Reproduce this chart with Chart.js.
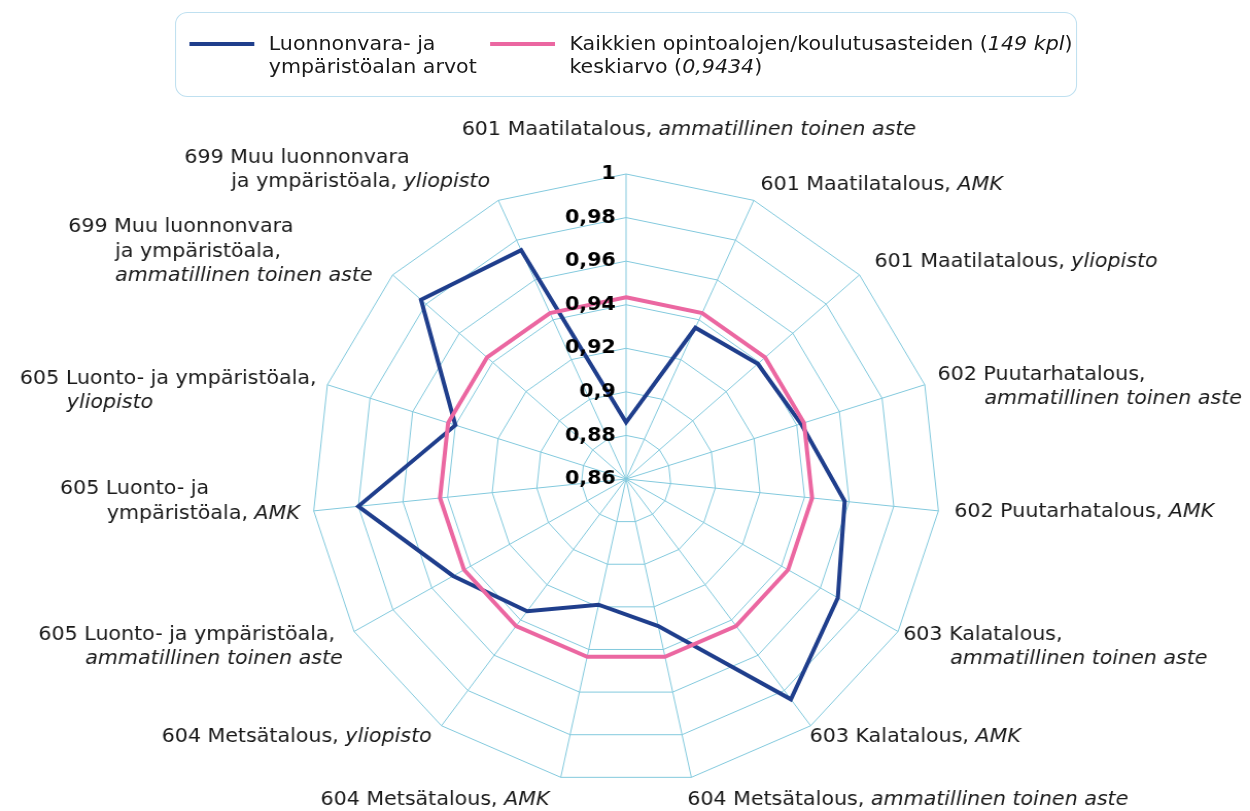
<!DOCTYPE html>
<html lang="fi">
<head>
<meta charset="utf-8">
<title>Luonnonvara- ja ympäristöala</title>
<script src="https://cdn.jsdelivr.net/npm/chart.js"></script>
<style>
  html, body { margin: 0; padding: 0; background: #fff; overflow: hidden; }
  #wrap {
    position: relative;
    width: 1214px;
    height: 811px;
    transform: scaleX(1.0297);
    transform-origin: 0 0;
    font-family: "DejaVu Sans", Verdana, sans-serif;
    color: #1a1a1a;
  }
  #chart { position: absolute; left: 0; top: 0; }
  .legend-box {
    position: absolute;
    left: 170px; top: 12px;
    width: 874px; height: 83px;
    border: 1.5px solid #bfe0f0;
    border-radius: 12px;
  }
  .legend-line { position: absolute; top: 42px; height: 4px; width: 63px; }
  .legend-text { position: absolute; top: 32px; font-size: 20px; line-height: 23px; white-space: nowrap; }
</style>
</head>
<body>
<div id="wrap">
  <canvas id="chart" width="1214" height="811"></canvas>
  <div class="legend-box"></div>
  <div class="legend-line" style="left:184px;background:#1f3e8c"></div>
  <div class="legend-text" style="left:261px">Luonnonvara- ja<br>ympäristöalan arvot</div>
  <div class="legend-line" style="left:476px;background:#eb67a1"></div>
  <div class="legend-text" style="left:553px">Kaikkien opintoalojen/koulutusasteiden (<i>149 kpl</i>)<br>keskiarvo (<i>0,9434</i>)</div>
</div>
<script>
// Kategoriat (*kursiivi*, \n = rivinvaihto)
const categories = [
  "601 Maatilatalous, *ammatillinen toinen aste*",
  "601 Maatilatalous, *AMK*",
  "601 Maatilatalous, *yliopisto*",
  "602 Puutarhatalous,\n*ammatillinen toinen aste*",
  "602 Puutarhatalous, *AMK*",
  "603 Kalatalous,\n*ammatillinen toinen aste*",
  "603 Kalatalous, *AMK*",
  "604 Metsätalous, *ammatillinen toinen aste*",
  "604 Metsätalous, *AMK*",
  "604 Metsätalous, *yliopisto*",
  "605 Luonto- ja ympäristöala,\n*ammatillinen toinen aste*",
  "605 Luonto- ja\nympäristöala, *AMK*",
  "605 Luonto- ja ympäristöala,\n*yliopisto*",
  "699 Muu luonnonvara\nja ympäristöala,\n*ammatillinen toinen aste*",
  "699 Muu luonnonvara\nja ympäristöala, *yliopisto*"
];

// Luonnonvara- ja ympäristöalan arvot
const alanArvot = [0.886, 0.936, 0.939, 0.942, 0.958, 0.969, 0.985, 0.929, 0.919, 0.935, 0.949, 0.980, 0.940, 0.983, 0.975];
// Kaikkien alojen keskiarvo
const keskiarvo = [0.9434, 0.9434, 0.9434, 0.9434, 0.9434, 0.9434, 0.9434, 0.9434, 0.9434, 0.9434, 0.9434, 0.9434, 0.9434, 0.9434, 0.9434];

const tickValues = [0.86, 0.88, 0.9, 0.92, 0.94, 0.96, 0.98, 1];
const tickLabels = ["0,86", "0,88", "0,9", "0,92", "0,94", "0,96", "0,98", "1"];

// Nimikkeiden sijoittelu suhteessa akselin uloimpaan pisteeseen
const labelPlace = [
  { align: "center", dx: 61, dy: -44 },
  { align: "left", dx: 6.5, dy: -16 },
  { align: "left", dx: 14.5, dy: -13 },
  { align: "left", dx: 12.5, dy: -10 },
  { align: "left", dx: 15.5, dy: 1 },
  { align: "left", dx: 5, dy: 3 },
  { align: "left", dx: -1, dy: 11 },
  { align: "left", dx: -4, dy: 22 },
  { align: "right", dx: -11, dy: 22 },
  { align: "right", dx: -9.5, dy: 11 },
  { align: "right", dx: -11, dy: 3 },
  { align: "right", dx: -13.5, dy: -22 },
  { align: "right", dx: -10.5, dy: -6 },
  { align: "right", dx: -19.5, dy: -48 },
  { align: "right", dx: -8, dy: -43 }
];

const FONT = '"DejaVu Sans", Verdana, sans-serif';
const LINE_H = 24.5;
const INDENT = 45.5;

function parseLine(line) {
  return line.split("*").map((t, k) => ({ t: t, it: k % 2 === 1 })).filter(s => s.t.length);
}

const textPlugin = {
  id: "radarText",
  afterDraw(chart) {
    const scale = chart.scales.r;
    const ctx = chart.ctx;
    ctx.save();
    ctx.textBaseline = "middle";

    // Asteikon arvot akselin vasemmalle puolelle
    ctx.font = "bold 20px " + FONT;
    ctx.fillStyle = "#000";
    ctx.textAlign = "right";
    tickValues.forEach((v, k) => {
      const p = scale.getPointPositionForValue(0, v);
      ctx.fillText(tickLabels[k], p.x - 10, p.y);
    });

    // Kategorioiden nimikkeet
    ctx.fillStyle = "#1a1a1a";
    ctx.textAlign = "left";
    categories.forEach((txt, i) => {
      const lines = txt.split("\n").map(parseLine);
      const place = labelPlace[i];
      const v = scale.getPointPosition(i, scale.drawingArea);
      const widths = lines.map((segs, k) => {
        let w = k ? INDENT : 0;
        segs.forEach(s => {
          ctx.font = (s.it ? "italic " : "") + "20px " + FONT;
          w += ctx.measureText(s.t).width;
        });
        return w;
      });
      const blockW = Math.max(...widths);
      let left = v.x + place.dx;
      if (place.align === "right") left -= blockW;
      if (place.align === "center") left -= blockW / 2;
      lines.forEach((segs, k) => {
        let x = left + (k ? INDENT : 0);
        const y = v.y + place.dy + k * LINE_H;
        segs.forEach(s => {
          ctx.font = (s.it ? "italic " : "") + "20px " + FONT;
          ctx.fillText(s.t, x, y);
          x += ctx.measureText(s.t).width;
        });
      });
    });
    ctx.restore();
  }
};

const ctx = document.getElementById("chart").getContext("2d");
new Chart(ctx, {
  type: "radar",
  data: {
    labels: categories.map(c => c.replace(/\*/g, "").replace(/\n/g, " ")),
    datasets: [
      {
        label: "Luonnonvara- ja ympäristöalan arvot",
        data: alanArvot,
        borderColor: "#1f3e8c",
        borderWidth: 4,
        fill: false,
        pointRadius: 0,
        tension: 0,
        order: 1
      },
      {
        label: "Kaikkien opintoalojen/koulutusasteiden (149 kpl) keskiarvo (0,9434)",
        data: keskiarvo,
        borderColor: "#eb67a1",
        borderWidth: 4,
        fill: false,
        pointRadius: 0,
        tension: 0,
        order: 0
      }
    ]
  },
  options: {
    responsive: false,
    animation: false,
    devicePixelRatio: 1,
    layout: { padding: { top: 174, bottom: 27, left: 2, right: 0 } },
    plugins: { legend: { display: false }, tooltip: { enabled: false } },
    scales: {
      r: {
        min: 0.86,
        max: 1,
        ticks: { display: false, stepSize: 0.02 },
        grid: { color: "#82c9dd", lineWidth: 1 },
        angleLines: { display: true, color: "#82c9dd", lineWidth: 1 },
        pointLabels: { display: false }
      }
    }
  },
  plugins: [textPlugin]
});
</script>
</body>
</html>
